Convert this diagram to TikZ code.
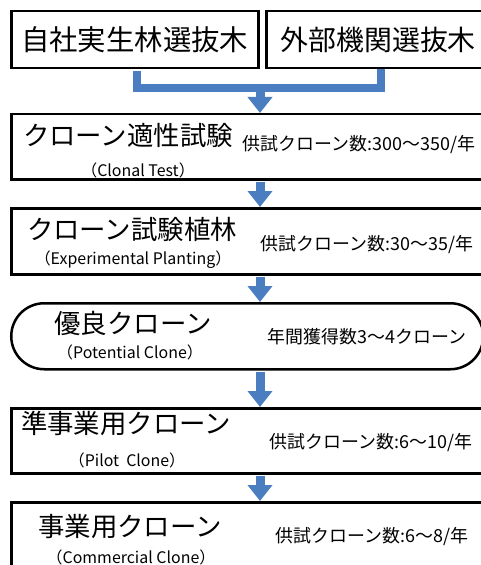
\documentclass[tikz,border=0pt]{standalone}
\usepackage{fontspec}
\setmainfont{Noto Sans CJK JP}
\usetikzlibrary{arrows.meta}
\definecolor{arrowblue}{RGB}{74,126,193}
\begin{document}
\begin{tikzpicture}[x=1bp,y=-1bp,
  box/.style={draw=black,line width=2.5bp,inner sep=0pt,anchor=north west},
  title/.style={font=\fontsize{26.5}{28}\selectfont,inner sep=0pt},
  sub/.style={font=\fontsize{16}{18}\selectfont,inner sep=0pt},
  note/.style={font=\fontsize{18}{20}\selectfont,inner sep=0pt},
  flow/.style={arrowblue,line width=9bp,-{Triangle[width=24bp,length=16bp]},shorten <=1.25bp},
]
\useasboundingbox (0,0) rectangle (481,565);
% top boxes
\node[box,minimum width=247bp,minimum height=57bp,font=\fontsize{28.5}{30}\selectfont] (a) at (10,10) {自社実生林選抜木};
\node[box,minimum width=224bp,minimum height=57bp,font=\fontsize{28}{30}\selectfont] (b) at (265,10) {外部機関選抜木};
% process boxes
\node[box,minimum width=480bp,minimum height=65bp] (c) at (10,113) {};
\node[box,minimum width=480bp,minimum height=66bp] (d) at (10,207) {};
\node[box,minimum width=472bp,minimum height=66bp,rounded corners=33bp] (e) at (10,302) {};
\node[box,minimum width=480bp,minimum height=65bp] (f) at (10,407) {};
\node[box,minimum width=480bp,minimum height=100bp] (g) at (10,501) {};
% texts
\node[title] (ct) at (128,135) {クローン適性試験};
\node[sub] (cs) at (138,170) {（Clonal Test）};
\node[note] (cn) at (359,145) {供試クローン数:300～350/年};
\node[title] (dt) at (132,229) {クローン試験植林};
\node[sub] (ds) at (133,260) {（Experimental Planting）};
\node[note] (dn) at (367,245) {供試クローン数:30～35/年};
\node[title] (et) at (133,323) {優良クローン};
\node[sub] (es) at (130,352) {（Potential Clone）};
\node[note] (en) at (367,337) {年間獲得数3～4クローン};
\node[title] (ft) at (126,423) {準事業用クローン};
\node[sub] (fs) at (127,460) {（Pilot\ \ Clone）};
\node[note] (fn) at (371,443) {供試クローン数:6～10/年};
\node[title] (gt) at (130,527) {事業用クローン};
\node[sub] (gs) at (131,557) {（Commercial Clone）};
\node[note] (gn) at (372,537) {供試クローン数:6～8/年};
% connectors
\coordinate (ax) at (260,0);
\draw[arrowblue,line width=8bp,shorten <=1.25bp] ([xshift=2.5bp]a.south) -- ++(0,19) coordinate (j0) -| ([xshift=3bp]b.south);
\draw[flow,shorten <=0pt] (ax |- j0) -- (ax |- c.north);
\draw[flow] (ax |- c.south) -- (ax |- d.north);
\draw[flow] (ax |- d.south) -- (ax |- e.north);
\draw[flow] (ax |- e.south) -- (ax |- f.north);
\draw[flow] (ax |- f.south) -- (ax |- g.north);
\end{tikzpicture}
\end{document}
